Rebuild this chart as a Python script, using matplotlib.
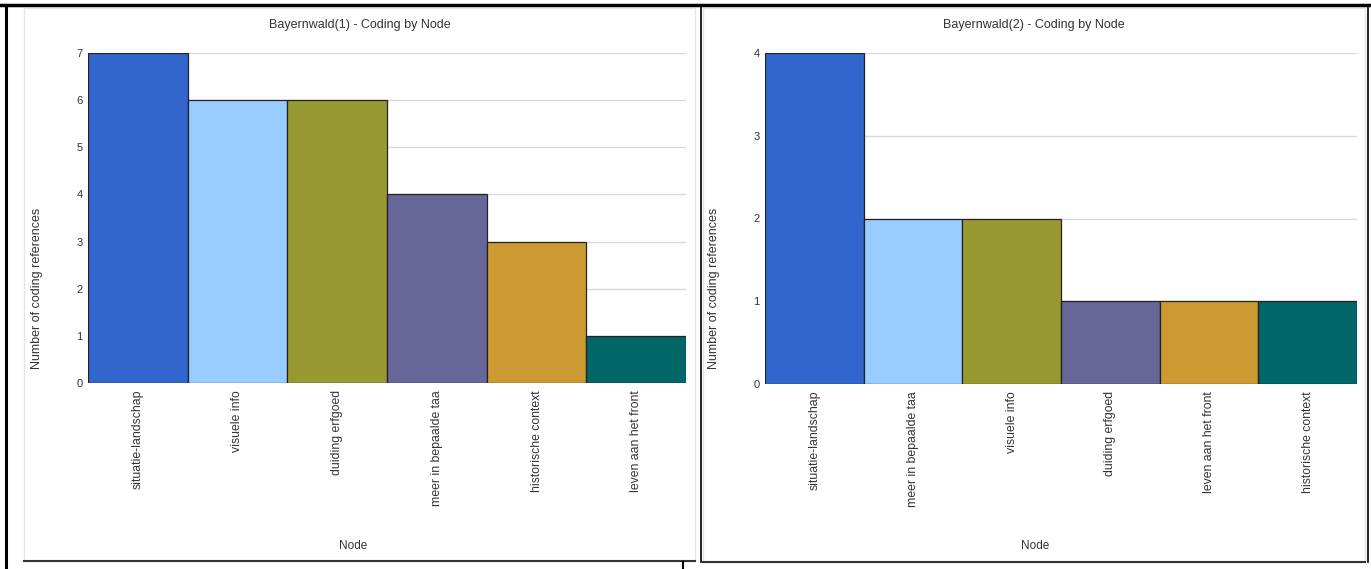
import matplotlib
matplotlib.use("Agg")
import matplotlib.pyplot as plt
from matplotlib.lines import Line2D
from matplotlib.patches import Rectangle

W, H = 1371, 569

# data
nodes_1 = ["situatie-landschap", "visuele info", "duiding erfgoed",
           "meer in bepaalde taa", "historische context", "leven aan het front"]
refs_1 = [7, 6, 6, 4, 3, 1]

nodes_2 = ["situatie-landschap", "meer in bepaalde taa", "visuele info",
           "duiding erfgoed", "leven aan het front", "historische context"]
refs_2 = [4, 2, 2, 1, 1, 1]

titles = ["Bayernwald(1) - Coding by Node", "Bayernwald(2) - Coding by Node"]

# colours go by bar position, not by node
palette = ["#3366CC", "#99CCFF", "#999933", "#666699", "#CC9933", "#006666"]

NARROW = ["Liberation Sans Narrow", "Liberation Sans", "DejaVu Sans"]
REGULAR = ["Liberation Sans", "DejaVu Sans"]
TXT = "#333333"


def frac(x0, y0, x1, y1):
    # pixel box (top-left origin) -> figure fraction rect
    return [x0 / W, 1 - y1 / H, (x1 - x0) / W, (y1 - y0) / H]


fig = plt.figure(figsize=(W / 100, H / 100), dpi=100)
fig.patch.set_facecolor("white")

# overlay in pixel coords for the frames and free text
over = fig.add_axes([0, 0, 1, 1], zorder=-1)
over.set_xlim(0, W)
over.set_ylim(H, 0)
over.axis("off")

# chart panels
for (x0, y0, x1, y1) in [(24, 8, 695, 561), (703, 8, 1365, 562)]:
    over.add_patch(Rectangle((x0, y0), x1 - x0, y1 - y0, fill=False,
                             edgecolor="#e4e4e4", linewidth=1))
    over.add_line(Line2D([x0, x1], [y1, y1], color="#333333", linewidth=1.5))

# black table lines of the screenshot
over.add_line(Line2D([0, W], [5, 5], color="black", linewidth=2.5))
over.add_line(Line2D([6, 6], [5, H], color="black", linewidth=2.2))
over.add_line(Line2D([701, 701], [5, 562], color="black", linewidth=1.2))
over.add_line(Line2D([1368, 1368], [5, 562], color="black", linewidth=1.2))
over.add_line(Line2D([683, 683], [562, H], color="black", linewidth=1.5))

panels = [
    (nodes_1, refs_1, titles[0], (88, 53, 686, 383), 7, 360, 353, 37),
    (nodes_2, refs_2, titles[1], (765, 53, 1357, 384), 4, 1034, 1035, 714),
]

for nodes, refs, title, box, ymax, tx, nx, ylab_x in panels:
    ax = fig.add_axes(frac(*box))
    x = range(len(nodes))
    ax.bar(x, refs, width=1.0, color=palette[:len(nodes)],
           edgecolor="#222222", linewidth=0.9, zorder=3)
    ax.set_xlim(-0.5, len(nodes) - 0.5)
    ax.set_ylim(0, ymax)
    ax.set_yticks(range(ymax + 1))
    ax.yaxis.grid(True, color="#d9d9d9", linewidth=1)
    ax.set_axisbelow(True)
    for s in ax.spines.values():
        s.set_visible(False)
    ax.tick_params(length=0)
    ax.tick_params(axis="y", pad=4, labelsize=8, labelcolor=TXT)
    ax.tick_params(axis="x", pad=5, labelsize=8.8, labelcolor=TXT)
    ax.set_xticks(list(x))
    ax.set_xticklabels(nodes, rotation=90, va="top", ha="center",
                       family=REGULAR)
    for t in ax.get_yticklabels():
        t.set_family(NARROW)

    over.text(tx, 25, title, ha="center", va="center", fontsize=9,
              color=TXT, family=NARROW)
    over.text(nx, 546, "Node", ha="center", va="center", fontsize=8.5,
              color=TXT, family=NARROW)
    over.text(ylab_x, 288, "Number of coding references", rotation=90,
              ha="center", va="center", fontsize=9, color=TXT, family=REGULAR)

fig.savefig("out.png", dpi=100)
